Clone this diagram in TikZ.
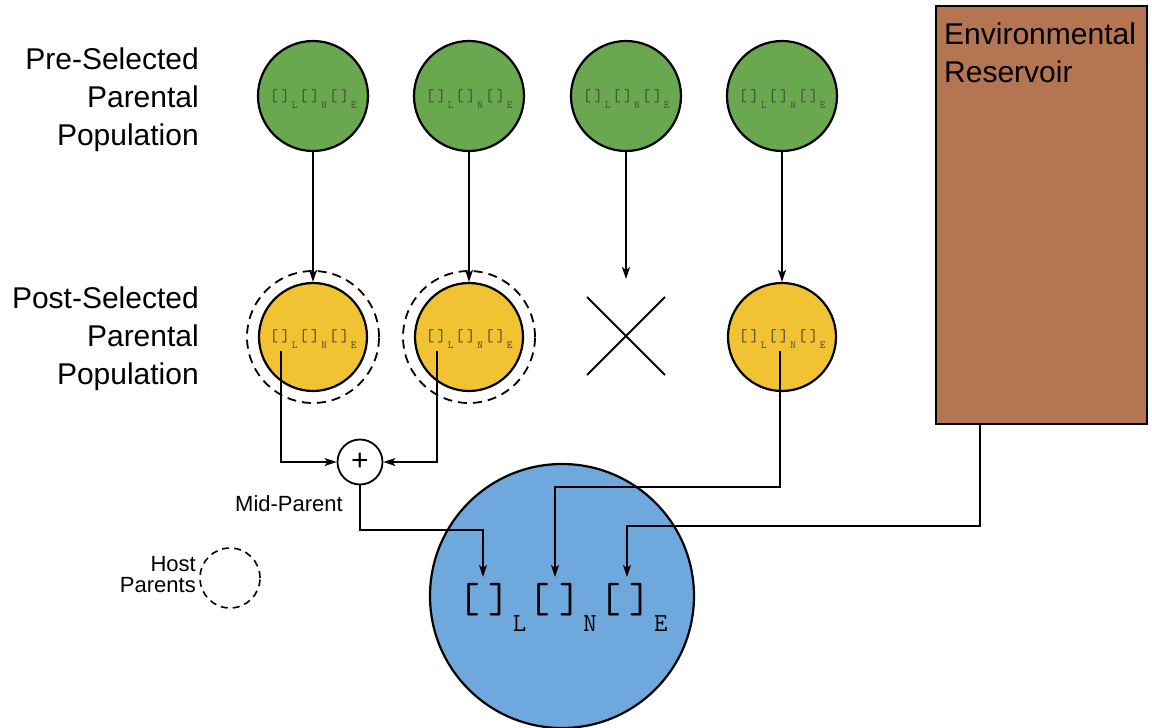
\documentclass[tikz,border=0pt]{standalone}
\usepackage{fontspec}
\setmainfont{Liberation Sans}
\usetikzlibrary{arrows.meta,calc}

\definecolor{popgreen}{RGB}{106,168,79}
\definecolor{popyellow}{RGB}{241,194,50}
\definecolor{hostblue}{RGB}{111,168,220}
\definecolor{soilbrown}{RGB}{180,117,82}
\definecolor{conctext}{RGB}{70,70,60}

% one concentration term: brackets followed by a lowered compartment letter
% #1 gap inside brackets, #2 letter size, #3 drop, #4 kern round the letter, #5 letter
\newcommand\cterm[5]{[\kern#1]\kern#4\raisebox{-#3}{\fontsize{#2}{#2}\selectfont #5}\kern#4}
% the three-compartment label; #1 main size, then as \cterm
\newcommand\conclabel[5]{{\fontsize{#1}{#1}\selectfont\ttfamily
  \cterm{#2}{#3}{#4}{#5}{L}\cterm{#2}{#3}{#4}{#5}{N}\cterm{#2}{#3}{#4}{#5}{E}}}

\tikzset{
  pop/.style={circle, draw=black, line width=2.2pt, minimum size=#1, inner sep=0pt},
  host/.style={circle, draw=black, line width=1.8pt, dash pattern=on 9pt off 6pt, minimum size=#1, inner sep=0pt},
  conn/.style={line width=1.8pt, draw=black},
  arr/.style={conn, -{Stealth[length=12pt,width=8pt,inset=3pt]}},
  lbl/.style={font=\fontsize{30}{38}\selectfont, align=right, inner sep=0pt},
  small conc/.style={text=conctext, inner sep=0pt, font=\conclabel{17}{3pt}{10.7}{6.5pt}{1.7pt}},
}

\begin{document}
\begin{tikzpicture}[x=1pt, y=-1pt]
\useasboundingbox (0,0) rectangle (1152,728);

% row labels
\node[lbl, anchor=east] (prelbl) at (199,100) {Pre-Selected\\Parental\\Population};
\node[lbl, anchor=east] (postlbl) at (199,339) {Post-Selected\\Parental\\Population};

% environmental reservoir
\node[draw=black, line width=2.2pt, fill=soilbrown, minimum width=211pt, minimum height=418pt,
      inner sep=0pt] (res) at (1041.5,215) {};
\node[anchor=north west, align=left, inner sep=0pt, font=\fontsize{30}{38}\selectfont]
      (reslbl) at (944,23) {Environmental\\Reservoir};

% pre-selected parents
\foreach \i/\x in {1/313,2/469,3/626,4/782}{
  \node[pop=110pt, fill=popgreen] (g\i) at (\x,96) {};
  \node[small conc] (gt\i) at (\x+1,99) {};
}

% post-selected parents
\node[host=132pt] (h1) at (313,337) {};
\node[host=132pt] (h2) at (469,337) {};
\foreach \i/\x in {1/313,2/469,4/782}{
  \node[pop=108pt, fill=popyellow] (y\i) at (\x,337) {};
  \node[small conc] (yt\i) at (\x+1,339) {};
}

% removed parent
\coordinate (x3) at (626,336);
\coordinate (x3top) at (626,279);
\draw[conn] ($(x3)+(-39,-39)$) -- ($(x3)+(39,39)$);
\draw[conn] ($(x3)+(-39,39)$) -- ($(x3)+(39,-39)$);

% mid-parent
\node[circle, draw=black, line width=1.8pt, fill=white, minimum size=45pt, inner sep=0pt,
      font=\fontsize{30}{30}\selectfont] (plus) at (360,462) {+};
\node[anchor=base east, inner sep=0pt, font=\fontsize{22}{22}\selectfont] (midlbl) at (343,511) {Mid-Parent};

% host
\node[pop=264pt, fill=hostblue] (blue) at (562,596) {};
\node[inner sep=0pt] (bluetext) at (564,607) {\conclabel{42}{9pt}{26}{19pt}{2.5pt}};
\coordinate (bL) at ($(blue)+(-79,-19)$);
\coordinate (bN) at ($(blue)+(-7,-19)$);
\coordinate (bE) at ($(blue)+(65,-19)$);

% legend
\node[host=60pt, line width=1.6pt, dash pattern=on 7pt off 5pt] (leg) at (230,578) {};
\node[anchor=east, align=right, inner sep=0pt, font=\fontsize{22}{21}\selectfont]
      (leglbl) at (196,575) {Host\\Parents};

% selection arrows
\draw[arr] (g1.south) -- (y1.north);
\draw[arr] (g2.south) -- (y2.north);
\draw[arr] (g3.south) -- (x3top);
\draw[arr] (g4.south) -- (y4.north);

% transmission routes
\coordinate (y1L) at ($(y1)+(-32,14)$);
\coordinate (y2L) at ($(y2)+(-32,14)$);
\coordinate (y4N) at ($(y4)+(-2,14)$);
\coordinate (resout) at ($(res.south west)+(45,0)$);
\draw[arr] (y1L) |- (plus.west);
\draw[arr] (y2L) |- (plus.east);
\draw[arr] (plus.south) |- ($(bL)+(0,-47)$) -- (bL);
\draw[arr] (y4N) |- ($(bN)+(0,-90)$) -- (bN);
\draw[arr] (resout) |- ($(bE)+(0,-51)$) -- (bE);
\end{tikzpicture}
\end{document}
